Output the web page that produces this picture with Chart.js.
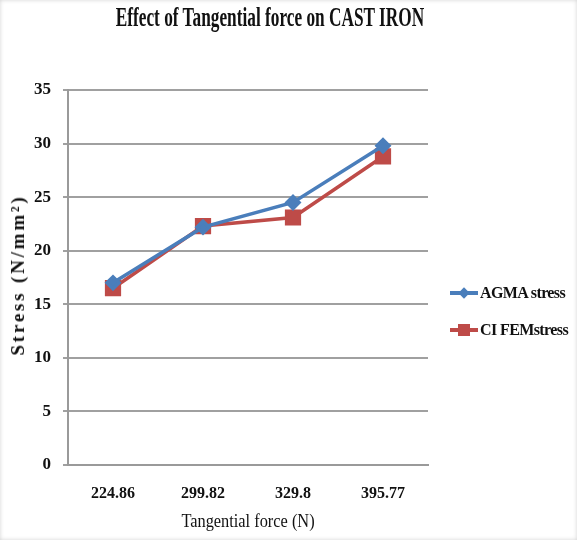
<!DOCTYPE html>
<html>
<head>
<meta charset="utf-8">
<script src="https://cdn.jsdelivr.net/npm/chart.js@4/dist/chart.umd.min.js"></script>
<style>
  html, body { margin: 0; padding: 0; background: #fff; }
  #wrap { position: relative; width: 577px; height: 540px; overflow: hidden;
          box-shadow: inset 0 0 4px rgba(0,0,0,0.18); }
  canvas { position: absolute; left: 0; top: 0; }
  .title { position: absolute; left: 0; width: 540px; top: 2px; text-align: center;
           font: bold 27px "Liberation Serif", serif; color: #111;
           transform: scaleX(0.64); transform-origin: 270px 0; white-space: nowrap; }
  .ytitle { position: absolute; left: 18px; top: 275px; white-space: nowrap;
            font: bold 19px "Liberation Serif", serif; letter-spacing: 2.8px; color: #111;
            transform: translate(-50%, -50%) rotate(-90deg); }
  .xtitle { position: absolute; left: 0; width: 496px; top: 510px; text-align: center;
            font: 19px "Liberation Serif", serif; color: #111; white-space: nowrap;
            transform: scaleX(0.86); transform-origin: 248px 0; }
  .legend { position: absolute; left: 450px; top: 282px; font: bold 16px "Liberation Serif", serif;
            color: #111; letter-spacing: -0.6px; }
  .legend .row { position: relative; height: 37px; line-height: 22px; padding-left: 30px; white-space: nowrap; }
  .legend .ln { position: absolute; left: 0; top: 9px; width: 28px; height: 4px; }
  .legend .mk { position: absolute; }
</style>
</head>
<body>
<div id="wrap">
  <canvas id="c" width="577" height="540"></canvas>
  <div class="title">Effect of Tangential force on CAST IRON</div>
  <div class="ytitle">Stress (N/mm²)</div>
  <div class="xtitle">Tangential force (N)</div>
  <div class="legend" id="legend"></div>
</div>
<script>
// Tangential force categories (N)
const forces = ['224.86', '299.82', '329.8', '395.77'];
// Stress values (N/mm²)
const agmaStress = [17.0, 22.2, 24.5, 29.8];
const femStress = [16.5, 22.3, 23.1, 28.8];
// Y axis range
const yMin = 0, yMax = 35, yStep = 5;

const seriesNames = ['AGMA stress', 'CI FEMstress'];
const blue = '#4a7ebb', red = '#be4b48';

const chart = new Chart(document.getElementById('c'), {
  type: 'line',
  data: {
    labels: forces,
    datasets: [
      { label: seriesNames[0], data: agmaStress, borderColor: blue, backgroundColor: blue,
        borderWidth: 3.5, pointStyle: 'rectRot', pointRadius: 6, tension: 0 },
      { label: seriesNames[1], data: femStress, borderColor: red, backgroundColor: red,
        borderWidth: 3.5, pointStyle: 'rect', pointRadius: 9, tension: 0 }
    ]
  },
  options: {
    responsive: false,
    animation: false,
    layout: { padding: { top: 90, right: 149, left: 0, bottom: 0 } },
    plugins: { legend: { display: false }, tooltip: { enabled: false } },
    scales: {
      x: {
        offset: true,
        grid: { display: false, drawTicks: false },
        border: { color: '#9a9a9a', width: 2 },
        ticks: { padding: 19, color: '#111', font: { family: 'Liberation Serif', size: 16, weight: 'bold' } },
        afterFit: s => { s.height = 75; }
      },
      y: {
        min: yMin, max: yMax,
        ticks: { stepSize: yStep, padding: 12, color: '#111',
                 font: { family: 'Liberation Serif', size: 17, weight: 'bold' } },
        grid: { color: '#a0a0a0', lineWidth: 2, tickLength: 5, drawOnChartArea: true },
        border: { color: '#9a9a9a', width: 2 },
        afterFit: s => { s.width = 68; }
      }
    }
  }
});

// Legend entries: line segment with the series marker
const lg = document.getElementById('legend');
[[seriesNames[0], blue, 'diamond'], [seriesNames[1], red, 'square']].forEach(([name, col, shape]) => {
  const row = document.createElement('div');
  row.className = 'row';
  const ln = document.createElement('div');
  ln.className = 'ln'; ln.style.background = col;
  const mk = document.createElement('div');
  mk.className = 'mk'; mk.style.background = col;
  if (shape === 'square') {
    mk.style.cssText += 'left:8px;top:5px;width:12px;height:12px;';
  } else {
    mk.style.cssText += 'left:10px;top:7px;width:8px;height:8px;transform:rotate(45deg);';
  }
  row.appendChild(ln); row.appendChild(mk);
  row.appendChild(document.createTextNode(name));
  lg.appendChild(row);
});
</script>
</body>
</html>
